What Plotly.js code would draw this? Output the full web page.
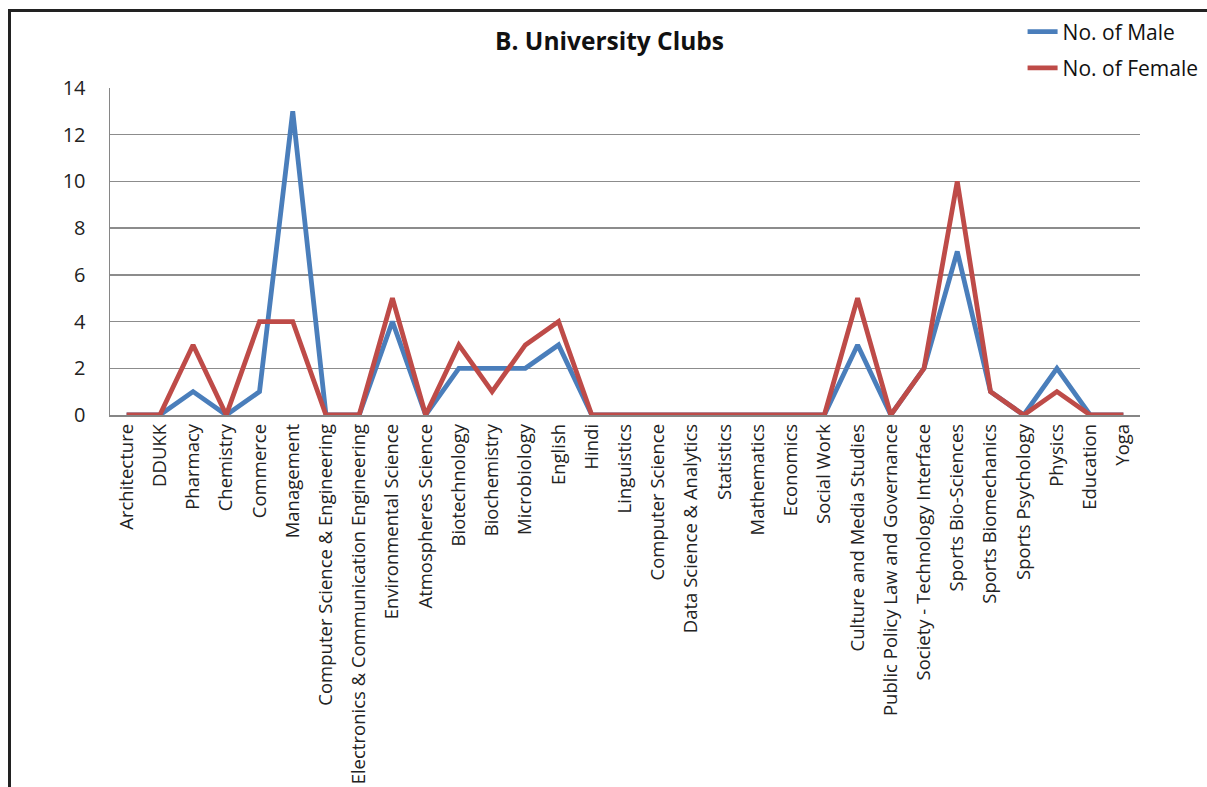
<!DOCTYPE html>
<html>
<head>
<meta charset="utf-8">
<script src="https://cdn.plot.ly/plotly-3.0.1.min.js"></script>
<style>
  html, body { margin: 0; padding: 0; background: #fff; overflow: hidden; }
  #frame { position: absolute; left: 8px; top: 9px; width: 1199px; height: 778px; border-left: 3px solid #222; border-top: 3px solid #222; box-sizing: border-box; pointer-events: none; z-index: 5; }
  #chart { position: absolute; left: 0; top: 0; width: 1207px; height: 787px; }
</style>
</head>
<body>
<div id="chart"></div>
<div id="frame"></div>
<script>
const categories = ["Architecture", "DDUKK", "Pharmacy", "Chemistry", "Commerce", "Management",
  "Computer Science & Engineering", "Electronics & Communication Engineering", "Environmental Science",
  "Atmospheres Science", "Biotechnology", "Biochemistry", "Microbiology", "English", "Hindi",
  "Linguistics", "Computer Science", "Data Science & Analytics", "Statistics", "Mathematics",
  "Economics", "Social Work", "Culture and Media Studies", "Public Policy Law and Governance",
  "Society - Technology Interface", "Sports Bio-Sciences", "Sports Biomechanics", "Sports Psychology",
  "Physics", "Education", "Yoga"];
const maleValues   = [0,0,1,0,1,13,0,0,4,0,2,2,2,3,0,0,0,0,0,0,0,0,3,0,2,7,1,0,2,0,0];
const femaleValues = [0,0,3,0,4,4,0,0,5,0,3,1,3,4,0,0,0,0,0,0,0,0,5,0,2,10,1,0,1,0,0];
const yTicks = [0,2,4,6,8,10,12,14];

const font = "'Open Sans', 'Liberation Sans', sans-serif";
const traces = [
  { x: categories, y: maleValues, type: "scatter", mode: "lines", name: "No. of Male",
    legendgroup: "m", line: { color: "#4a7ebb", width: 4.8 } },
  { x: categories, y: femaleValues, type: "scatter", mode: "lines", name: "No. of Female",
    legendgroup: "f", line: { color: "#be4b48", width: 4.8 } }
];
const layout = {
  width: 1207, height: 787,
  margin: { l: 110, r: 67, t: 88, b: 372, pad: 0, autoexpand: false },
  paper_bgcolor: "#fff", plot_bgcolor: "#fff",
  font: { family: font, color: "#222" },
  title: { text: "<b>B. University Clubs</b>", x: 0.505, xanchor: "center", y: 0.947, yanchor: "middle",
    font: { family: font, size: 24.5, color: "#111" } },
  xaxis: {
    type: "category", range: [-0.5, 30.5], tickangle: -90,
    tickfont: { family: font, size: 18.5, color: "#222" },
    showgrid: false, showline: true, linecolor: "#868686", linewidth: 1.5,
    ticks: "", fixedrange: true
  },
  yaxis: {
    range: [0, 14], tickvals: yTicks, ticktext: yTicks.map(String),
    tickfont: { family: font, size: 20, color: "#222" },
    showgrid: true, gridcolor: "#8c8c8c", gridwidth: 1.5,
    showline: true, linecolor: "#868686", linewidth: 1.5,
    zeroline: false, ticks: "", ticklen: 0, ticklabelstandoff: 19, automargin: false, fixedrange: true
  },
  showlegend: true,
  legend: { x: 0.886, y: 1.234, xanchor: "left", yanchor: "top", bgcolor: "rgba(0,0,0,0)",
    traceorder: "grouped", tracegroupgap: 6,
    font: { family: font, size: 21, color: "#111" }, itemwidth: 30 }
};
Plotly.newPlot("chart", traces, layout, { staticPlot: true, displayModeBar: false });
</script>
</body>
</html>
